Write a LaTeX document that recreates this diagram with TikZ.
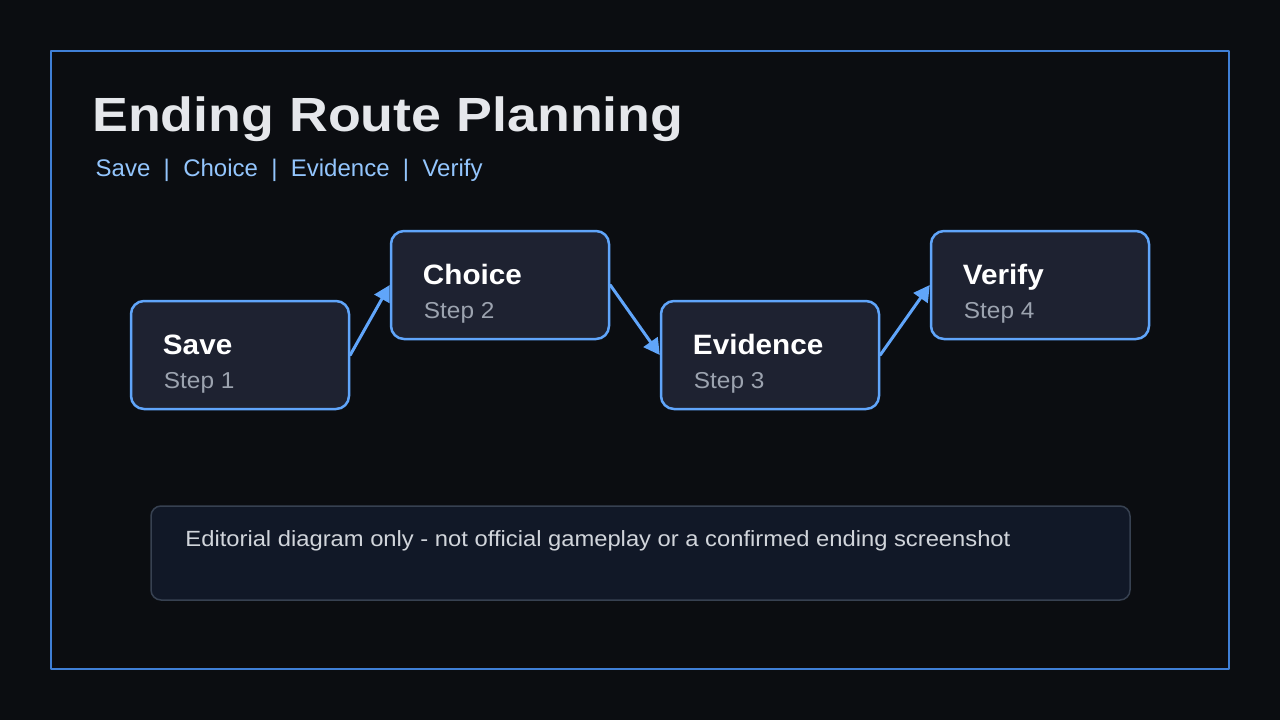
\documentclass[tikz,border=0pt]{standalone}
\usepackage{fontspec}
\setmainfont{Liberation Sans}
\newfontfamily\titlefont[FakeStretch=1.12]{Liberation Sans}
\newfontfamily\tilefont[FakeStretch=1.06]{Liberation Sans}
\newfontfamily\notefont[FakeStretch=1.08]{Liberation Sans}
\usetikzlibrary{arrows.meta}
\definecolor{grund}{HTML}{0B0D11}
\definecolor{rahmen}{HTML}{3F7FD6}
\definecolor{linie}{HTML}{60A5FA}
\definecolor{kachel}{HTML}{1E2231}
\definecolor{titel}{HTML}{E5E7EB}
\definecolor{akzent}{HTML}{93C5FD}
\definecolor{schritt}{HTML}{9CA3AF}
\definecolor{notiz}{HTML}{111827}
\definecolor{notizrand}{HTML}{374151}
\definecolor{notiztext}{HTML}{D1D5DB}
\begin{document}
\begin{tikzpicture}[x=1pt,y=-1pt,line cap=round,line join=round,
  tile/.style={draw=linie,fill=kachel,line width=2.5pt,rounded corners=13pt,
    minimum width=218pt,minimum height=108pt,inner sep=0pt},
  tiletitle/.style={anchor=base west,inner sep=0pt,text=white,
    font=\tilefont\fontsize{28}{32}\selectfont\bfseries},
  tilestep/.style={anchor=base west,inner sep=0pt,text=schritt,
    font=\tilefont\fontsize{23}{27}\selectfont},
  flow/.style={draw=linie,line width=3pt,-{Triangle[length=16pt,width=17pt]}}]
\fill[grund] (0,0) rectangle (1280,720);
\draw[rahmen,line width=2pt] (51,51) rectangle (1229,669);
% Kopfzeile mit Titel und Stufenliste.
\node[anchor=base west,inner sep=0pt,text=titel,font=\titlefont\fontsize{48}{54}\selectfont\bfseries]
  (heading) at (92,131){Ending Route Planning};
\node[anchor=base west,inner sep=0pt,text=akzent,font=\fontsize{24}{28}\selectfont]
  (route) at (95.5,176.5){Save\ \ |\ \ Choice\ \ |\ \ Evidence\ \ |\ \ Verify};
% Vier Stufen im Zickzack, jeweils mit Name und Schrittnummer.
\foreach \id/\label/\x/\y/\n in {save/Save/240/355/1,choice/Choice/500/285/2,
  evidence/Evidence/770/355/3,verify/Verify/1040/285/4}{
 \node[tile] (\id) at (\x,\y){};
 \node[tiletitle] (\id-title) at ([shift={(33,55)}]\id.north west){\label};
 \node[tilestep] (\id-step) at ([shift={(34,89)}]\id.north west){Step \n};
}
\draw[flow] (save.east) -- (choice.west);
\draw[flow] (choice.east) -- (evidence.west);
\draw[flow] (evidence.east) -- (verify.west);
% Hinweis unten.
\node[draw=notizrand,fill=notiz,line width=1.5pt,rounded corners=10pt,
  minimum width=979pt,minimum height=94pt,inner sep=0pt] (note) at (640.5,553){};
\node[anchor=base west,inner sep=0pt,text=notiztext,font=\notefont\fontsize{22}{26}\selectfont]
  (notetext) at ([shift={(35,41)}]note.north west)
  {Editorial diagram only - not official gameplay or a confirmed ending screenshot};
\end{tikzpicture}
\end{document}
